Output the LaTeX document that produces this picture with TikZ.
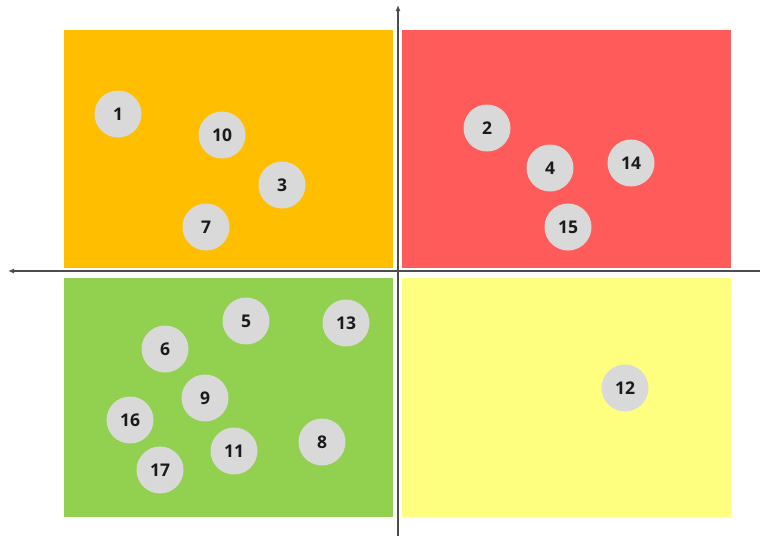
\documentclass[tikz,border=0pt]{standalone}
\usepackage{fontspec}
\setsansfont{Open Sans}
\usetikzlibrary{arrows.meta}
\definecolor{qorange}{HTML}{FFBF00}
\definecolor{qred}{HTML}{FF5B5B}
\definecolor{qgreen}{HTML}{92D050}
\definecolor{qyellow}{HTML}{FFFF7F}
\definecolor{dotgray}{HTML}{D9D9D9}
\definecolor{txt}{HTML}{1A1A1A}
\tikzset{
  dot/.style={circle, fill=dotgray, minimum size=47pt, inner sep=0pt, font=\sffamily\bfseries\fontsize{17.5}{17.5}\selectfont, text=txt},
  axis/.style={line width=1.2pt, draw=black!70, -{Latex[length=6pt,width=5pt]}}
}
\begin{document}
\begin{tikzpicture}[x=1pt,y=-1pt]
\useasboundingbox (0,0) rectangle (760,536);
\fill[qorange] (64,30) rectangle (393,268);
\fill[qred] (402,30) rectangle (731,268);
\fill[qgreen] (64,278) rectangle (393,517);
\fill[qyellow] (402,278) rectangle (731,517);
\coordinate (vb) at (398,536);
\coordinate (vt) at (398,5);
\coordinate (hr) at (760,271);
\coordinate (hl) at (8,271);
\draw[axis] (vb) -- (vt);
\draw[axis] (hr) -- (hl);
\node[dot] (n1) at (118,114) {1};
\node[dot] (n10) at (222,135) {10};
\node[dot] (n3) at (282,185) {3};
\node[dot] (n7) at (206,227) {7};
\node[dot] (n2) at (487,128) {2};
\node[dot] (n4) at (550,168) {4};
\node[dot] (n14) at (631,163) {14};
\node[dot] (n15) at (568,227) {15};
\node[dot] (n5) at (246,321) {5};
\node[dot] (n13) at (346,323) {13};
\node[dot] (n6) at (165,349) {6};
\node[dot] (n9) at (205,398) {9};
\node[dot] (n16) at (130,420) {16};
\node[dot] (n11) at (234,451) {11};
\node[dot] (n8) at (322,442) {8};
\node[dot] (n17) at (160,470) {17};
\node[dot] (n12) at (625,388) {12};
\end{tikzpicture}
\end{document}
